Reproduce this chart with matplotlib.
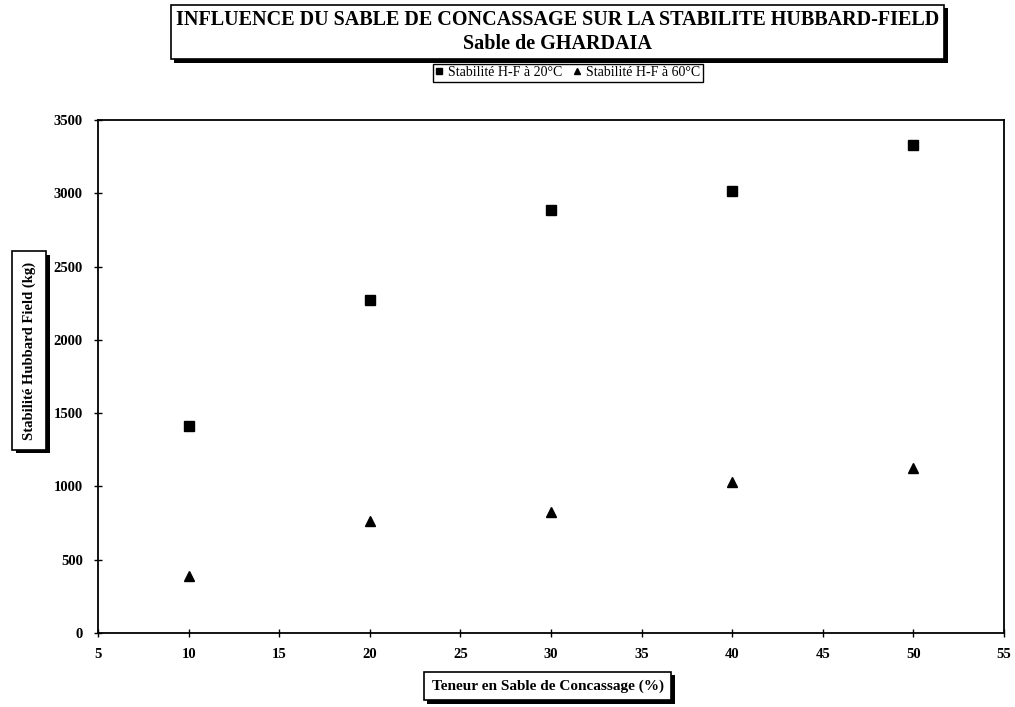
import matplotlib
matplotlib.use("Agg")
import matplotlib.pyplot as plt
import matplotlib.patheffects as pe

plt.rcParams['font.family'] = ['Liberation Serif', 'DejaVu Serif']

# Teneur en sable de concassage (%)
teneur = [10, 20, 30, 40, 50]
# Stabilité Hubbard-Field (kg)
stab_20 = [1410, 2270, 2890, 3020, 3330]
stab_60 = [390, 765, 825, 1030, 1125]

title_lines = ["INFLUENCE DU SABLE DE CONCASSAGE SUR LA STABILITE HUBBARD-FIELD",
               "Sable de GHARDAIA"]
label_20 = "Stabilité H-F à 20°C"
label_60 = "Stabilité H-F à 60°C"
xlabel = "Teneur en Sable de Concassage (%)"
ylabel = "Stabilité Hubbard Field (kg)"
xticks = [5, 10, 15, 20, 25, 30, 35, 40, 45, 50, 55]
yticks = [0, 500, 1000, 1500, 2000, 2500, 3000, 3500]

fig = plt.figure(figsize=(10.15, 7.07), dpi=100)
ax = fig.add_axes([0.0966, 0.1047, 0.8924, 0.7253])

ax.plot(teneur, stab_20, linestyle='none', marker='s', markersize=6.5,
        color='black', label=label_20)
ax.plot(teneur, stab_60, linestyle='none', marker='^', markersize=7,
        color='black', label=label_60)

ax.set_xlim(5, 55)
ax.set_ylim(0, 3500)
ax.set_xticks(xticks)
ax.set_yticks(yticks)
ax.tick_params(direction='inout', length=6, width=1, labelsize=10.5, pad=8)
for lab in ax.get_xticklabels() + ax.get_yticklabels():
    lab.set_fontweight('bold')
for sp in ax.spines.values():
    sp.set_linewidth(1.3)

shadow = [pe.withSimplePatchShadow(offset=(2.5, -2.5), shadow_rgbFace='black', alpha=1)]

# Boxed title with drop shadow
t = fig.text(0.5494, 0.955, "\n".join(title_lines), ha='center', va='center',
             fontsize=14.5, fontweight='bold', linespacing=1.3,
             bbox=dict(boxstyle='square,pad=0.25', fc='white', ec='black', lw=1.2))
t.get_bbox_patch().set_path_effects(shadow)

# Legend placed under the title
leg = fig.legend(loc='center', bbox_to_anchor=(0.5596, 0.897), ncol=2,
                 fontsize=10, frameon=True, fancybox=False, edgecolor='black',
                 framealpha=1, handlelength=0.5, handletextpad=0.4,
                 columnspacing=0.8, borderpad=0.2, markerscale=0.7)
leg.get_frame().set_linewidth(1.0)

# Axis titles in shadowed boxes
yl = fig.text(0.029, 0.504, ylabel, rotation=90, ha='center', va='center',
              fontsize=10.5, fontweight='bold',
              bbox=dict(boxstyle='square,pad=0.7', fc='white', ec='black', lw=1.2))
yl.get_bbox_patch().set_path_effects(shadow)

xl = fig.text(0.5395, 0.0297, xlabel, ha='center', va='center',
              fontsize=11, fontweight='bold',
              bbox=dict(boxstyle='square,pad=0.5', fc='white', ec='black', lw=1.2))
xl.get_bbox_patch().set_path_effects(shadow)

fig.savefig("out.png", dpi=100)
